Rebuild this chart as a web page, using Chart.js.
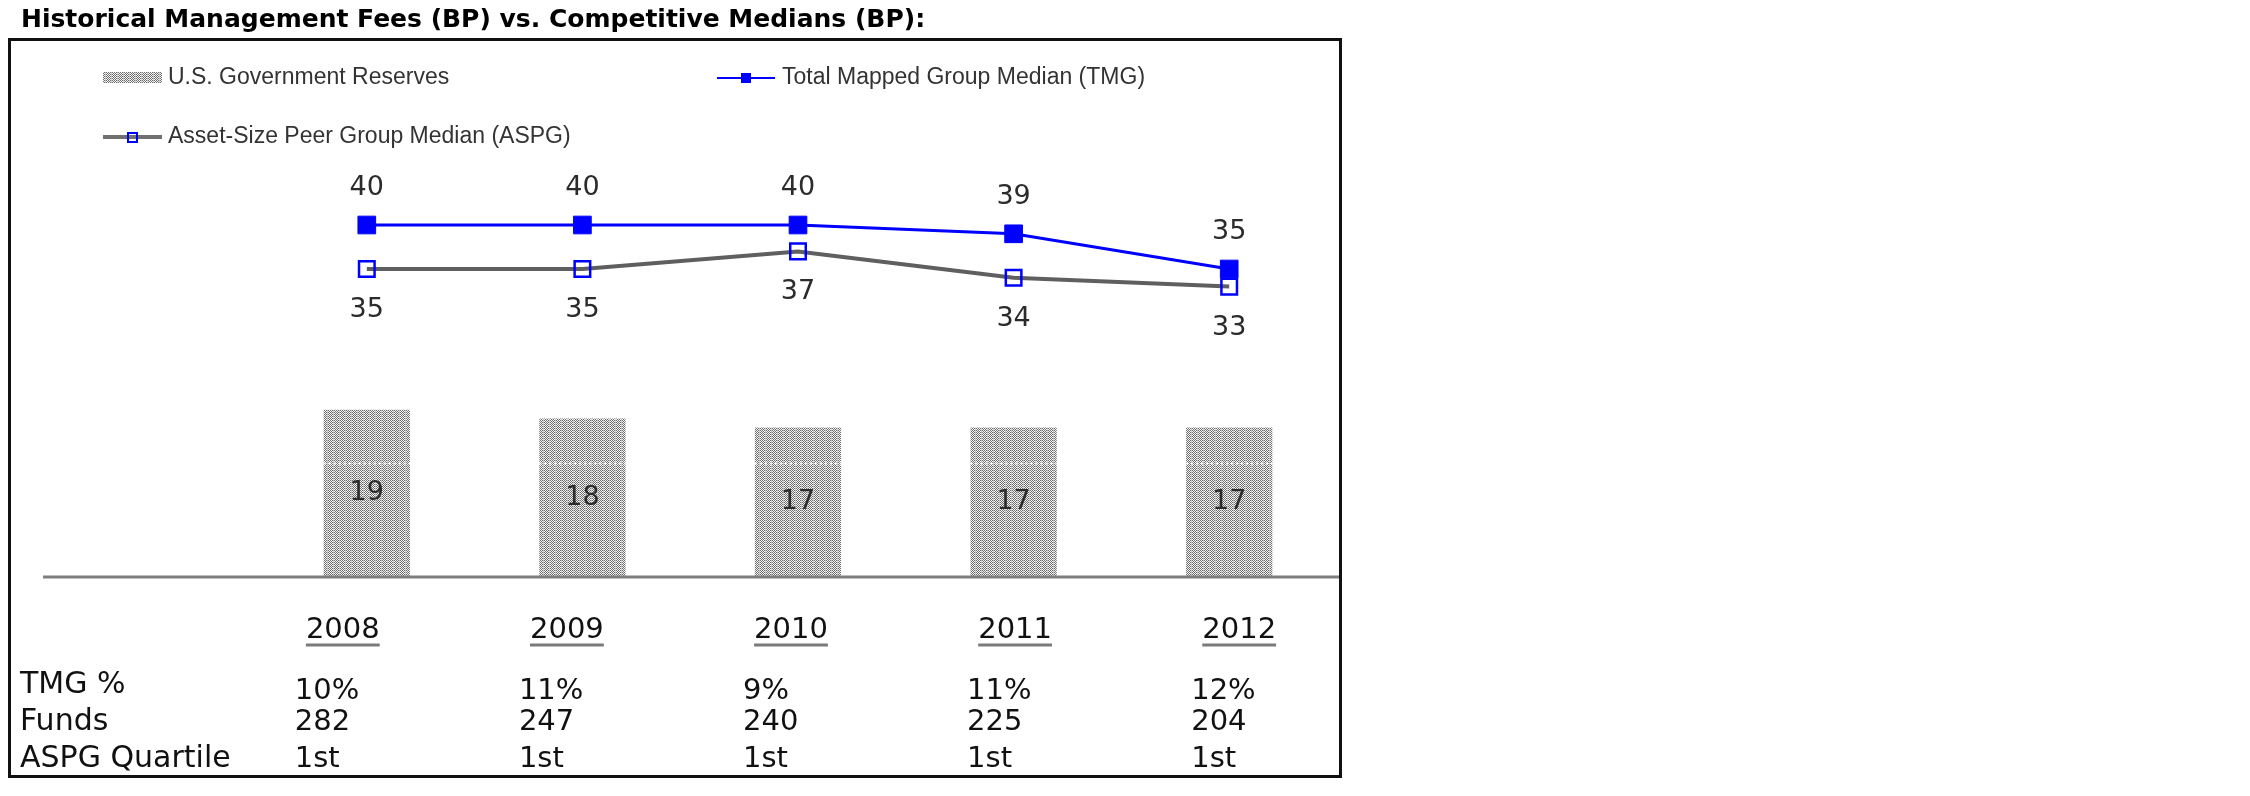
<!DOCTYPE html>
<html>
<head>
<meta charset="utf-8">
<title>Historical Management Fees</title>
<script src="https://cdn.jsdelivr.net/npm/chart.js@4.4.1/dist/chart.umd.min.js"></script>
<style>
  html, body { margin: 0; padding: 0; background: #fff; }
  #wrap { position: relative; width: 2250px; height: 796px; }
</style>
</head>
<body>
<div id="wrap"><canvas id="fees" width="2250" height="796"></canvas></div>
<script>
// data
const years = ["2008", "2009", "2010", "2011", "2012"];
const govReserves = [19, 18, 17, 17, 17];
const tmgMedian = [40, 40, 40, 39, 35];
const aspgMedian = [35, 35, 37, 34, 33];
const tmgPct = ["10%", "11%", "9%", "11%", "12%"];
const funds = ["282", "247", "240", "225", "204"];
const aspgQuartile = ["1st", "1st", "1st", "1st", "1st"];
const rowNames = ["TMG %", "Funds", "ASPG Quartile"];

const TITLE = "Historical Management Fees (BP) vs. Competitive Medians (BP):";
const VERDANA = '"DejaVu Sans", Verdana, sans-serif';
const TAHOMA = '"Liberation Sans", Arial, sans-serif';

const ctx = document.getElementById('fees').getContext('2d');

// dithered grey fill like the old office chart
function makePattern() {
    const c = document.createElement('canvas');
    c.width = 6; c.height = 4;
    const g = c.getContext('2d');
    g.fillStyle = '#f4f4f4';
    g.fillRect(0, 0, 6, 4);
    g.fillStyle = '#6e6e6e';
    for (let yy = 0; yy < 4; yy++) {
        for (let xx = 0; xx < 6; xx++) {
            if ((xx + yy) % 2 === 0) g.fillRect(xx, yy, 1, 1);
        }
    }
    g.fillStyle = '#c4c4c4';
    g.fillRect(3, 0, 1, 4);
    return ctx.createPattern(c, 'repeat');
}
const barFill = makePattern();

const decorations = {
    id: 'decorations',
    afterDatasetsDraw(chart) {
        const c = chart.ctx;
        const xs = chart.scales.x, ys = chart.scales.y;
        c.save();

        // baseline
        const y0 = ys.getPixelForValue(0);
        c.strokeStyle = '#7f7f7f';
        c.lineWidth = 3;
        c.beginPath();
        c.moveTo(43, y0);
        c.lineTo(1339, y0);
        c.stroke();

        // white dotted seam through the bars
        const seam = Math.round(ys.getPixelForValue(13)) + 0.5;
        c.strokeStyle = '#fff';
        c.lineWidth = 2;
        c.setLineDash([2, 3]);
        chart.getDatasetMeta(0).data.forEach(el => {
            c.beginPath();
            c.moveTo(el.x - el.width / 2, seam);
            c.lineTo(el.x + el.width / 2, seam);
            c.stroke();
        });
        c.setLineDash([]);

        // value labels
        c.font = '27px ' + VERDANA;
        c.fillStyle = '#2b2b2b';
        c.textAlign = 'center';
        c.textBaseline = 'middle';
        chart.getDatasetMeta(0).data.forEach((el, i) => {
            c.fillText(govReserves[i], el.x, (el.y + el.base) / 2);
        });
        chart.getDatasetMeta(1).data.forEach((el, i) => {
            c.fillText(tmgMedian[i], el.x, el.y - 37);
        });
        chart.getDatasetMeta(2).data.forEach((el, i) => {
            c.fillText(aspgMedian[i], el.x, el.y + 41);
        });

        // year headings, underlined, with the small table under them
        c.font = '29px ' + VERDANA;
        c.fillStyle = '#111';
        c.textBaseline = 'alphabetic';
        const rows = [tmgPct, funds, aspgQuartile];
        const rowBase = [699, 730, 767];
        years.forEach((yr, i) => {
            const cx = xs.getPixelForValue(i) - 24 + i * 8.5;
            c.textAlign = 'center';
            c.fillText(yr, cx, 638);
            const w = c.measureText(yr).width;
            c.strokeStyle = '#7a7a7a';
            c.lineWidth = 3;
            c.beginPath();
            c.moveTo(cx - w / 2, 645);
            c.lineTo(cx + w / 2, 645);
            c.stroke();
            c.textAlign = 'left';
            rows.forEach((r, k) => c.fillText(r[i], cx - 48, rowBase[k]));
        });
        c.font = '30px ' + VERDANA;
        c.textAlign = 'left';
        rowNames.forEach((n, k) => c.fillText(n, 20, [693, 730, 767][k]));

        // legend
        c.font = '23px ' + TAHOMA;
        c.textBaseline = 'middle';
        c.fillStyle = barFill;
        c.fillRect(103, 72, 59, 11);
        c.fillStyle = '#333';
        c.fillText("U.S. Government Reserves", 168, 78);

        c.strokeStyle = '#0000ff';
        c.lineWidth = 2;
        c.beginPath(); c.moveTo(717, 78); c.lineTo(775, 78); c.stroke();
        c.fillStyle = '#0000ff';
        c.fillRect(741, 73, 10, 10);
        c.fillStyle = '#333';
        c.fillText("Total Mapped Group Median (TMG)", 782, 78);

        c.strokeStyle = '#707070';
        c.lineWidth = 4;
        c.beginPath(); c.moveTo(103, 137); c.lineTo(162, 137); c.stroke();
        c.strokeStyle = '#0000ff';
        c.lineWidth = 2;
        c.strokeRect(128, 133, 9, 9);
        c.fillText("Asset-Size Peer Group Median (ASPG)", 168, 137);

        // title and frame
        c.font = 'bold 25px ' + VERDANA;
        c.fillStyle = '#000';
        c.textBaseline = 'alphabetic';
        c.fillText(TITLE, 21, 27);
        c.strokeStyle = '#111';
        c.lineWidth = 3;
        c.strokeRect(9.5, 39.5, 1331, 737);

        c.restore();
    }
};

new Chart(ctx, {
    data: {
        labels: years,
        datasets: [
            {
                type: 'bar', label: 'U.S. Government Reserves', data: govReserves,
                backgroundColor: barFill, barPercentage: 0.4, categoryPercentage: 1, order: 2
            },
            {
                type: 'line', label: 'Total Mapped Group Median (TMG)', data: tmgMedian,
                borderColor: '#0000ff', borderWidth: 3, tension: 0,
                pointStyle: 'rect', pointRadius: 12.5, pointBackgroundColor: '#0000ff',
                pointBorderColor: '#0000ff', pointBorderWidth: 1, order: 1
            },
            {
                type: 'line', label: 'Asset-Size Peer Group Median (ASPG)', data: aspgMedian,
                borderColor: '#5f5f5f', borderWidth: 4, tension: 0,
                pointStyle: 'rect', pointRadius: 11, pointBackgroundColor: 'rgba(255,255,255,0)',
                pointBorderColor: '#0000ff', pointBorderWidth: 2.5, order: 0
            }
        ]
    },
    options: {
        responsive: false,
        animation: false,
        layout: { padding: { left: 259, right: 913, top: 181, bottom: 219 } },
        plugins: { legend: { display: false }, tooltip: { enabled: false } },
        scales: {
            x: { display: false, offset: true },
            y: { display: false, min: 0, max: 45 }
        }
    },
    plugins: [decorations]
});
</script>
</body>
</html>
